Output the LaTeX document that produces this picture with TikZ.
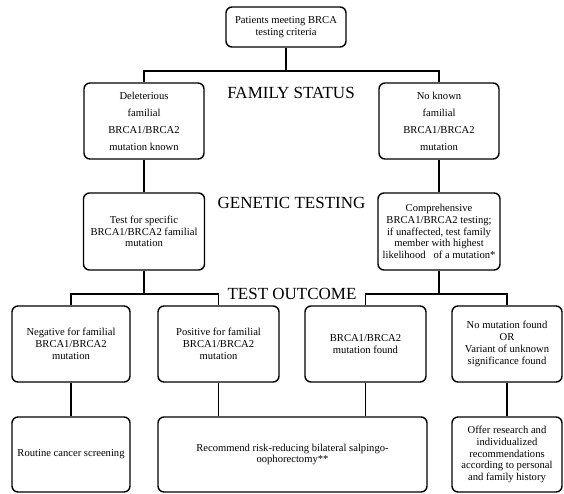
\documentclass[tikz,border=0pt]{standalone}
\usepackage{fontspec}
\setmainfont{Liberation Serif}
\newfontfamily\chartfont{Liberation Serif}
\usetikzlibrary{positioning}

\begin{document}
\begin{tikzpicture}[x=1pt,y=-1pt,
    box/.style={draw,line width=1.4pt,rounded corners=6pt,align=center,inner sep=2pt,
      font=\chartfont\fontsize{10.6}{11.8}\selectfont},
    spaced/.style={font=\chartfont\fontsize{10.6}{17}\selectfont},
    stage/.style={font=\chartfont\fontsize{17}{19}\selectfont},
    link/.style={line width=1.4pt}]
  \useasboundingbox (0,0) rectangle (564,493);
  % top
  \node[box,minimum width=120,minimum height=40] (patients) at (286,27) {Patients meeting BRCA\\testing criteria};
  % family status
  \node[box,spaced,minimum width=120,minimum height=76] (known) at (144,121) {Deleterious\\familial\\BRCA1/BRCA2\\mutation known};
  \node[box,spaced,minimum width=120,minimum height=76] (unknown) at (439,121) {No known\\familial\\BRCA1/BRCA2\\mutation};
  \node[stage] (famlabel) at (291,93) {FAMILY STATUS};
  % genetic testing
  \node[box,minimum width=121,minimum height=77] (specific) at (144,231.5) {Test for specific\\BRCA1/BRCA2 familial\\mutation};
  \node[box,minimum width=122,minimum height=77] (comprehensive) at (439,231.5) {Comprehensive\\BRCA1/BRCA2 testing;\\if unaffected, test family\\member with highest\\likelihood \ \ of a mutation*};
  \node[stage] (testlabel) at (291.5,203) {GENETIC TESTING};
  % test outcome
  \node[stage] (outlabel) at (292,294) {TEST OUTCOME};
  \node[box,minimum width=118,minimum height=76] (negative) at (71,344) {Negative for familial\\BRCA1/BRCA2\\mutation};
  \node[box,minimum width=121,minimum height=76] (positive) at (218.5,344) {Positive for familial\\BRCA1/BRCA2\\mutation};
  \node[box,minimum width=121,minimum height=76] (found) at (365.5,344) {BRCA1/BRCA2\\mutation found};
  \node[box,minimum width=110,minimum height=76] (nomut) at (507,344) {No mutation found\\OR\\Variant of unknown\\significance found};
  % management
  \node[box,minimum width=118,minimum height=75] (routine) at (71,454.5) {Routine cancer screening};
  \node[box,minimum width=269,minimum height=75] (recommend) at (292.5,454.5) {Recommend risk-reducing bilateral salpingo-\\oophorectomy**};
  \node[box,minimum width=110,minimum height=75] (offer) at (507,454.5) {Offer research and\\individualized\\recommendations\\according to personal\\and family history};
  % connectors
  \coordinate (famsplit) at (286,71);
  \coordinate (leftsplit) at (144,294);
  \coordinate (rightsplit) at (439,294);
  \draw[link] (patients) -- (famsplit);
  \draw[link] (known.north) |- (famsplit) -| (unknown.north);
  \draw[link] (known) -- (specific);
  \draw[link] (unknown) -- (comprehensive);
  \draw[link] (specific) -- (leftsplit);
  \draw[link] (negative.north) |- (leftsplit) -| (positive.north);
  \draw[link] (comprehensive) -- (rightsplit);
  \draw[link] (found.north) |- (rightsplit) -| (nomut.north);
  \draw[link] (negative) -- (routine);
  \draw[link] (positive.south) -- (positive.south |- recommend.north);
  \draw[link] (found.south) -- (found.south |- recommend.north);
  \draw[link] (nomut) -- (offer);
\end{tikzpicture}
\end{document}
